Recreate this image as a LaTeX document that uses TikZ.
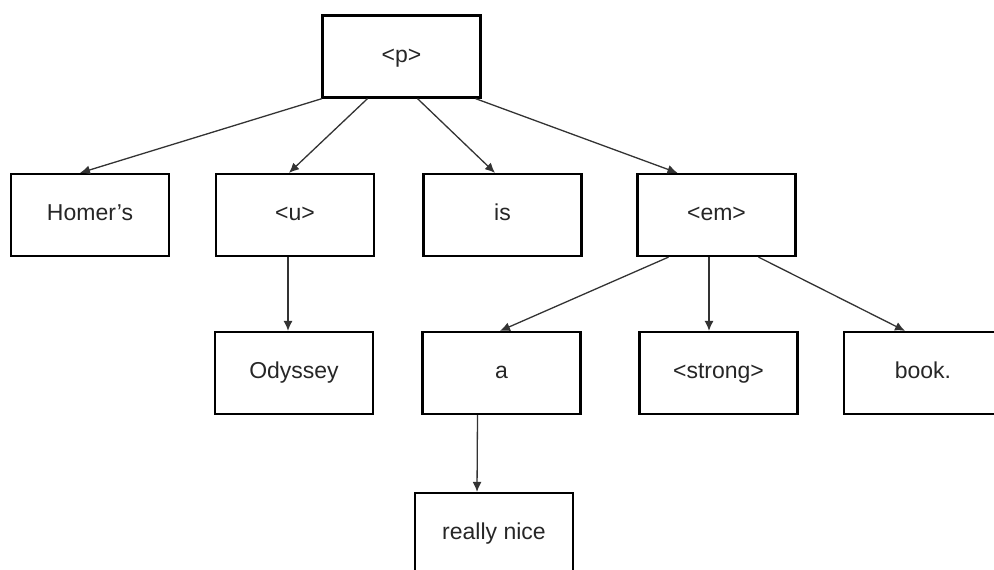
\documentclass[tikz,border=0pt]{standalone}
\usepackage{fontspec}
\setmainfont{Liberation Sans}
\usetikzlibrary{arrows.meta}
\begin{document}
\begin{tikzpicture}[x=0.5pt,y=-0.5pt,
  box/.style={draw=black,line width=1.1pt,minimum width=79pt,minimum height=41pt,inner sep=0pt,text height=8.2pt,text depth=2.4pt,font=\fontsize{11.5pt}{13pt}\selectfont,text=black!85},
  conn/.style={draw=black!80,line width=0.65pt,-{Latex[length=5pt,width=4.5pt]}}]
\useasboundingbox (0,0) rectangle (994,569);
\node[box] (p) at (401.5,56.5) {<p>};
\node[box] (homer) at (90,215) {Homer's};
\node[box] (u) at (295,215) {<u>};
\node[box] (is) at (502.5,215) {is};
\node[box] (em) at (716.5,215) {<em>};
\node[box] (ody) at (294,373) {Odyssey};
\node[box] (a) at (501.5,373) {a};
\node[box] (strong) at (718.5,373) {<strong>};
\node[box] (book) at (923,373) {book.};
\node[box] (nice) at (494,534) {really nice};
\draw[conn] ([xshift=-39.75pt]p.south) -- ([xshift=-5pt]homer.north);
\draw[conn] ([xshift=-17pt]p.south) -- ([xshift=-3pt]u.north);
\draw[conn] ([xshift=8pt]p.south) -- ([xshift=-3.75pt]is.north);
\draw[conn] ([xshift=37pt]p.south) -- ([xshift=-19.5pt]em.north);
\draw[conn] ([xshift=-3.5pt]u.south) -- ([xshift=-3pt]ody.north);
\draw[conn] ([xshift=-24pt]em.south) -- ([xshift=-0.75pt]a.north);
\draw[conn] ([xshift=-3.75pt]em.south) -- ([xshift=-4.75pt]strong.north);
\draw[conn] ([xshift=21pt]em.south) -- ([xshift=-9pt]book.north);
\draw[conn] ([xshift=-12pt]a.south) -- ([xshift=-8.5pt]nice.north);
\end{tikzpicture}
\end{document}
